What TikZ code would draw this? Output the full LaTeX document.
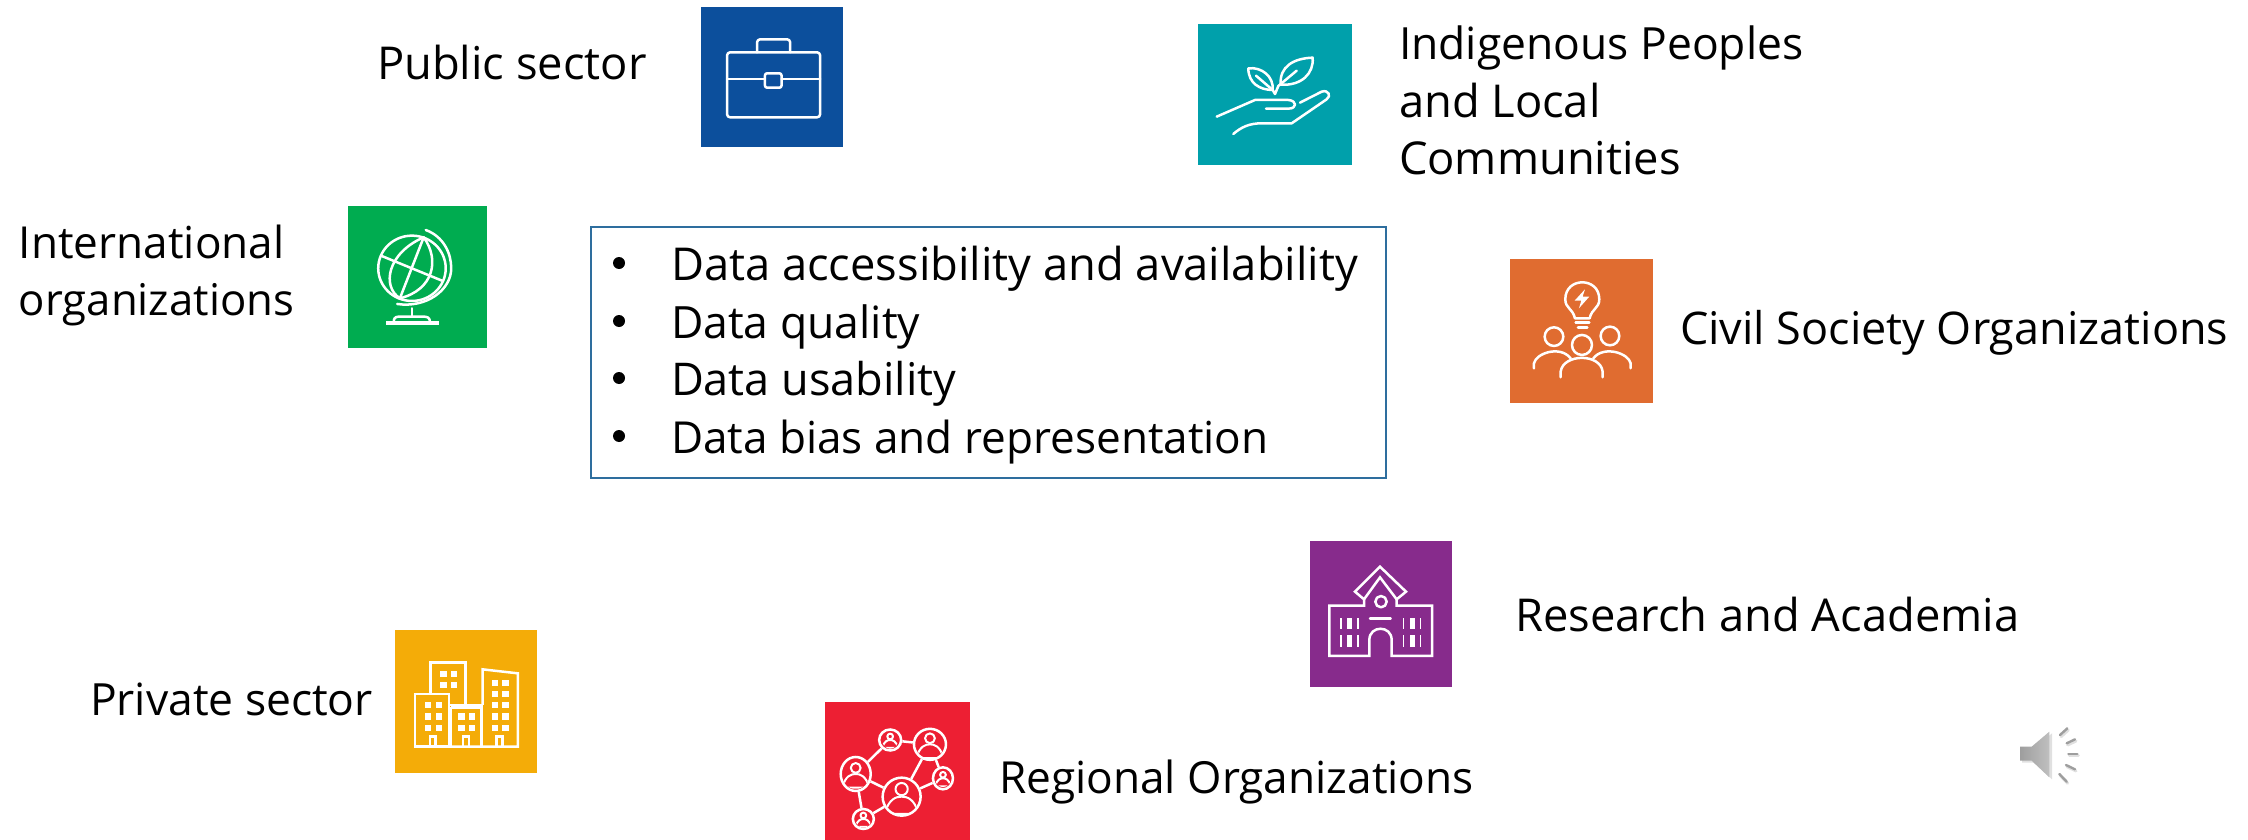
\documentclass[tikz,border=0pt]{standalone}
\usepackage{fontspec}
\setmainfont{Open Sans}
\usetikzlibrary{shapes.geometric}
\definecolor{cblue}{HTML}{0C4F9C}
\definecolor{cgreen}{HTML}{00AC50}
\definecolor{cteal}{HTML}{00A0AB}
\definecolor{corange}{HTML}{E06C30}
\definecolor{cyellow}{HTML}{F4AC08}
\definecolor{cred}{HTML}{ED1F33}
\definecolor{cpurple}{HTML}{872B8C}
\definecolor{cframe}{HTML}{2E6E9E}
\tikzset{
  lab/.style={anchor=base west,inner sep=0pt,outer sep=0pt,font=\fontsize{#1}{57}\selectfont,text=black},
  lab/.default=45.3,
  tile/.style={fill=#1,draw=none},
  ico/.style={draw=white,line width=2.5pt,line cap=round,line join=round},
  fic/.style={fill=white,draw=none},
  bul/.style={circle,fill=black,inner sep=0pt,minimum size=12pt}
}
\begin{document}
\begin{tikzpicture}[x=1pt,y=-1pt]
\useasboundingbox (0,0) rectangle (2248,840);
% Tiles
\path[tile=cblue] (701,7) rectangle (843,147);
\path[tile=cgreen] (348,206) rectangle (487,348);
\path[tile=cteal] (1198,24) rectangle (1352,165);
\path[tile=corange] (1510,259) rectangle (1653,403);
\path[tile=cyellow] (395,630) rectangle (537,773);
\path[tile=cred] (825,702) rectangle (970,840);
\path[tile=cpurple] (1310,541) rectangle (1452,687);
% Centre box
\node[draw=cframe,line width=1.6pt,fill=white,rectangle,minimum width=795pt,minimum height=251pt,inner sep=0pt,anchor=north west] (box) at (590,226) {};
\foreach \n/\yb/\fs/\t in {a/280/45.3/Data accessibility and availability,b/338/44.5/Data quality,c/395/45.1/Data usability,d/453/44.1/Data bias and representation}{
  \node[bul] (bul\n) at (619,\yb-17) {};
  \node[lab=\fs] (txt\n) at (671,\yb) {\t};
}
% Labels
\node[lab] (public) at (377,80) {Public sector};
\node[lab=44.1] (intl1) at (19,258) {International};
\node[lab=43.7] (intl2) at (19,315) {organizations};
\node[lab=44.4] (ind1) at (1399,60) {Indigenous Peoples};
\node[lab] (ind2) at (1399,118) {and Local};
\node[lab] (ind3) at (1399,174) {Communities};
\node[lab=45] (civil) at (1680,344) {Civil Society Organizations};
\node[lab] (research) at (1515,631) {Research and Academia};
\node[lab=44.2] (regional) at (999,793) {Regional Organizations};
\node[lab=44.4] (private) at (90,715) {Private sector};
% Briefcase and globe
\begin{scope}[shift={(330,0)},x=0.3444pt,y=-0.3333pt]
  \draw[ico,rounded corners=3pt] (1153,157) rectangle (1423,352);
  \draw[ico,rounded corners=3pt] (1240,157) -- (1240,118) -- (1336,118) -- (1336,157);
  \draw[ico] (1153,237) -- (1263,237) (1311,237) -- (1423,237);
  \draw[ico,rounded corners=2pt] (1263,220) rectangle (1311,263);
  % Globe
  \draw[ico] (238,805) circle[radius=98];
  \draw[ico] (278,690) .. controls (330,710) and (352,760) .. (352,805) .. controls (352,870) and (280,925) .. (195,912);
  \draw[ico] (272,712) -- (203,895);
  \draw[ico] (272,712) .. controls (165,760) and (150,860) .. (203,895);
  \draw[ico] (272,712) .. controls (320,780) and (300,870) .. (203,895);
  \draw[ico] (150,768) -- (325,842);
  \draw[ico] (238,925) -- (238,950);
  \draw[ico] (185,962) .. controls (187,950) and (195,950) .. (205,950) -- (270,950) .. controls (282,950) and (288,952) .. (290,962);
  \path[fic] (163,963) rectangle (316,974);
\end{scope}
% Hand and plant, orange people
\begin{scope}[shift={(1180,10)},x=0.3333pt,y=-0.3333pt]
  \draw[ico] (302,224) .. controls (298,170) and (340,145) .. (398,143) .. controls (402,190) and (365,228) .. (302,224);
  \draw[ico] (285,252) -- (295,228) -- (350,182);
  \draw[ico] (205,175) .. controls (245,170) and (282,200) .. (278,240) .. controls (240,240) and (205,220) .. (205,175);
  \draw[ico] (228,197) -- (278,240) -- (285,252);
  \draw[ico] (110,320) -- (225,270) -- (325,270) .. controls (352,272) and (352,296) .. (325,296) -- (258,296);
  \draw[ico] (360,278) -- (425,245) .. controls (445,238) and (455,258) .. (440,268) -- (335,340) -- (245,340) .. controls (210,340) and (185,350) .. (160,372);
  % Orange
  \draw[ico] (1185,925) .. controls (1178,895) and (1156,895) .. (1156,868) .. controls (1156,800) and (1258,800) .. (1258,868) .. controls (1258,895) and (1236,895) .. (1229,925) -- cycle;
  \draw[ico] (1187,937) -- (1228,937) (1194,953) -- (1222,953);
  \path[fic] (1215,838) -- (1184,872) -- (1204,872) -- (1197,895) -- (1228,860) -- (1208,860) -- cycle;
  \draw[ico] (1122,980) circle[radius=28];
  \draw[ico] (1290,978) circle[radius=28];
  \draw[ico] (1206,1005) circle[radius=30];
  \draw[ico] (1062,1075) -- (1062,1060) .. controls (1068,1030) and (1140,1005) .. (1172,1045);
  \draw[ico] (1352,1075) -- (1352,1060) .. controls (1346,1030) and (1272,1005) .. (1240,1045);
  \draw[ico] (1142,1102) -- (1142,1085) .. controls (1150,1030) and (1262,1030) .. (1268,1085) -- (1268,1102);
\end{scope}
% Buildings and network
\begin{scope}[shift={(380,620)},x=0.3827pt,y=-0.3333pt]
  \draw[ico,line cap=butt,line join=miter] (92,222) rectangle (180,380);
  \draw[ico,line cap=butt,line join=miter] (132,222) -- (132,127) -- (223,127) -- (223,255);
  \draw[ico,line cap=butt,line join=miter] (180,255) -- (268,255);
  \draw[ico,line cap=butt,line join=miter] (185,262) -- (265,262) -- (265,380);
  \draw[ico,line cap=butt,line join=miter] (185,262) -- (185,380);
  \draw[ico,line cap=butt,line join=miter] (268,255) -- (268,148) -- (360,160) -- (360,380) -- (92,380);
  \foreach \x/\y in {158/153,186/153,158/186,186/186,118/246,146/246,118/280,146/280,118/315,146/315,205/280,233/280,205/315,233/315,292/180,320/180,292/213,320/213,292/246,320/246,292/280,320/280,292/315,320/315}{
    \path[fic] (\x,\y) rectangle ++(16,19);
  }
  \foreach \x in {130,217,305}{
    \draw[ico,line cap=butt,line join=miter] (\x,380) -- (\x,350) -- (\x+15,350) -- (\x+15,380);
  }
  % Network
  \tikzset{nw/.style={ellipse,draw=white,line width=2.5pt,fill=cred,inner sep=0pt}}
  \node[nw,minimum width=30pt,minimum height=34pt] (na) at (1243,462) {};
  \node[nw,minimum width=22pt,minimum height=21pt] (nb) at (1333,360) {};
  \node[nw,minimum width=32pt,minimum height=31pt] (nc) at (1437,373) {};
  \node[nw,minimum width=20pt,minimum height=22pt] (nd) at (1471,475) {};
  \node[nw,minimum width=38pt,minimum height=38pt] (ne) at (1363,530) {};
  \node[nw,minimum width=21pt,minimum height=20pt] (nf) at (1263,597) {};
  \foreach \p/\q in {na/nb,nb/nc,nc/nd,nc/ne,nd/ne,na/ne,na/nf,nf/ne}{
    \draw[ico,line cap=butt] (\p) -- (\q);
  }
  \foreach \p/\s in {na/1.2,nb/0.7,nc/1.2,nd/0.7,ne/1.5,nf/0.7}{
    \begin{scope}[shift={(\p)},x=\s*12pt,y=-\s*12pt]
      \path[clip] (\p.center) ellipse[x radius=\s*11.5pt,y radius=\s*12.5pt];
      \draw[ico,line width=2pt] (0,-0.42) circle[radius=0.34];
      \draw[ico,line width=2pt] (-0.95,0.95) .. controls (-0.7,0.1) and (-0.3,0) .. (0,0) .. controls (0.3,0) and (0.7,0.1) .. (0.95,0.95) -- cycle;
    \end{scope}
  }
\end{scope}
% School
\begin{scope}[shift={(1290,530)},x=0.3333pt,y=-0.3333pt]
  \draw[ico,line cap=butt,line join=miter] (222,208) -- (195,185) -- (270,110) -- (348,185) -- (320,208) -- (270,142) -- cycle;
  \draw[ico,line cap=butt,line join=miter] (222,208) -- (222,227) -- (118,227) -- (118,378) -- (238,378) -- (238,330) .. controls (238,285) and (305,285) .. (305,330) -- (305,378) -- (426,378) -- (426,227) -- (320,227) -- (320,208);
  \draw[ico] (273,215) circle[radius=17];
  \draw[ico] (240,265) -- (302,265);
  \foreach \x in {150,338}{
    \foreach \y in {263,315}{
      \path[fic] (\x,\y) rectangle ++(5,35);
      \path[fic] (\x+21,\y) rectangle ++(16,35);
      \path[fic] (\x+51,\y) rectangle ++(5,35);
    }
  }
\end{scope}
% Speaker
\begin{scope}[shift={(1990,700)},x=0.3333pt,y=-0.3333pt]
  \path[fill=black!12] (96,146) -- (131,146) -- (186,100) -- (186,238) -- (131,188) -- (96,188) -- cycle;
  \path[left color=black!38,right color=black!25] (90,140) -- (125,140) -- (178,95) -- (178,232) -- (125,182) -- (90,182) -- cycle;
  \foreach \a/\b/\c/\d in {210/105/232/85,230/130/255/118,235/162/262/162,228/195/255/208,208/222/230/245}{
    \draw[black!12,line width=3pt,line cap=round] (\a+3,\b+5) -- (\c+3,\d+5);
    \draw[black!38,line width=2.4pt,line cap=round] (\a,\b) -- (\c,\d);
  }
\end{scope}
\end{tikzpicture}
\end{document}
